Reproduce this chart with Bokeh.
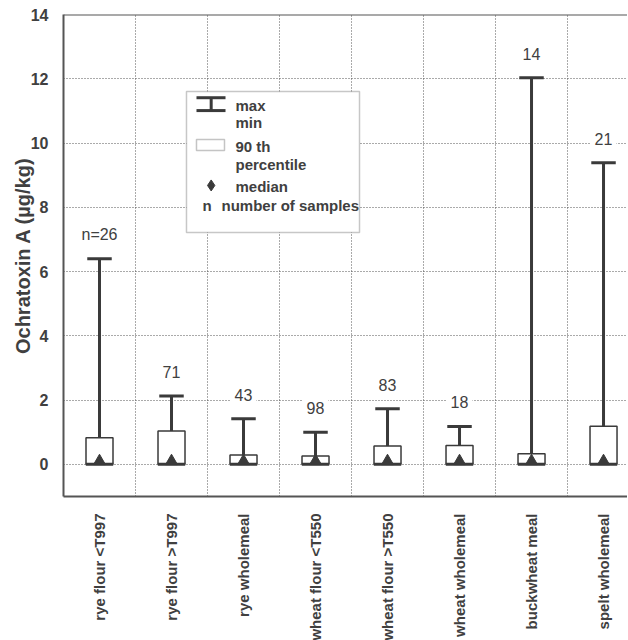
import numpy as np
from bokeh.plotting import figure
from bokeh.models import ColumnDataSource, FixedTicker, Span, BoxAnnotation, Label
from bokeh.transform import dodge
from bokeh.embed import file_html
from bokeh.resources import INLINE
from bokeh.core.properties import value

# ---- data ----
categories = ["rye flour <T997", "rye flour >T997", "rye wholemeal",
              "wheat flour <T550", "wheat flour >T550", "wheat wholemeal",
              "buckwheat meal", "spelt wholemeal"]
n_samples = [26, 71, 43, 98, 83, 18, 14, 21]
max_vals = [6.4, 2.13, 1.42, 1.0, 1.73, 1.18, 12.03, 9.39]
p90_vals = [0.83, 1.04, 0.29, 0.26, 0.57, 0.59, 0.33, 1.19]
min_vals = [0, 0, 0, 0, 0, 0, 0, 0]
median_vals = [0.1, 0.1, 0.1, 0.1, 0.1, 0.1, 0.1, 0.1]
y_ticks = [0, 2, 4, 6, 8, 10, 12, 14]

FONT = "Liberation Sans"
DARK = "#3a3a3a"
TXT = "#404040"

xs = [i + 0.5 for i in range(len(categories))]
n_labels = ["n=%d" % n_samples[0]] + [str(n) for n in n_samples[1:]]

src = ColumnDataSource(dict(x=xs, mx=max_vals, p90=p90_vals, mn=min_vals,
                            med=median_vals, lab=n_labels))

p = figure(frame_width=564, frame_height=482, x_range=(0, 7.833), y_range=(-1, 14),
           output_backend="svg", toolbar_location=None,
           min_border_left=63, min_border_top=14, min_border_right=0,
           min_border_bottom=130)
p.outline_line_color = None
p.background_fill_color = "white"
p.border_fill_color = "white"

# grids
p.xgrid.ticker = FixedTicker(ticks=[1, 2, 3, 4, 5, 6, 7])
p.ygrid.ticker = FixedTicker(ticks=y_ticks[:-1])
for g in (p.xgrid, p.ygrid):
    g.grid_line_color = "#555555"
    g.grid_line_dash = "1 2"
    g.grid_line_width = 1

# top border
p.add_layout(Span(location=14, dimension="width", line_color="#555555", line_width=2))

# axes
p.xaxis.ticker = FixedTicker(ticks=xs)
p.xaxis.major_label_overrides = {x: c for x, c in zip(xs, categories)}
p.xaxis.major_label_orientation = np.pi / 2
p.yaxis.ticker = FixedTicker(ticks=y_ticks)
for ax in (p.xaxis, p.yaxis):
    ax.axis_line_color = "#555555"
    ax.axis_line_width = 2
    ax.major_tick_line_color = None
    ax.minor_tick_line_color = None
    ax.major_label_text_font = FONT
    ax.major_label_text_font_style = "bold"
    ax.major_label_text_color = TXT
p.xaxis.major_label_text_font_size = "15px"
p.xaxis.major_label_standoff = 11
p.yaxis.major_label_text_font_size = "16px"
p.yaxis.major_label_standoff = 9
p.yaxis.axis_label = "Ochratoxin A (µg/kg)"
p.yaxis.axis_label_text_font = FONT
p.yaxis.axis_label_text_font_size = "20px"
p.yaxis.axis_label_text_font_style = "bold"
p.yaxis.axis_label_text_color = TXT
p.yaxis.axis_label_standoff = -6

# boxes (0 -> 90th percentile)
p.vbar(x="x", top="p90", bottom="mn", width=0.375, source=src,
       fill_color="white", line_color=DARK, line_width=1.5)
# whisker stem
p.segment(x0="x", y0="p90", x1="x", y1="mx", source=src, line_color=DARK, line_width=3)
# max cap
p.segment(x0=dodge("x", -0.17), y0="mx", x1=dodge("x", 0.17), y1="mx", source=src,
          line_color=DARK, line_width=3)
# min cap
p.segment(x0=dodge("x", -0.19), y0="mn", x1=dodge("x", 0.19), y1="mn", source=src,
          line_color=DARK, line_width=3)
# median
p.scatter(x="x", y="med", marker="triangle", size=12, source=src,
          fill_color=DARK, line_color=DARK)

# sample counts
p.text(x="x", y="mx", text="lab", source=src, text_align="center",
       text_baseline="middle", y_offset=-24, text_font=value(FONT),
       text_font_size="16px", text_color=TXT,
       background_fill_color="white", padding=4)

# ---- legend (drawn) ----
p.add_layout(BoxAnnotation(left=1.708, right=4.111, top=11.605, bottom=7.218,
                           fill_color="white", fill_alpha=1.0,
                           line_color="#444444", line_width=1.5))
p.add_layout(BoxAnnotation(left=1.847, right=2.236, top=10.11, bottom=9.77,
                           fill_color="white", fill_alpha=1.0,
                           line_color=DARK, line_width=1.5, level="overlay"))
p.segment(x0=[1.847, 1.847, 2.051], y0=[11.41, 11.01, 11.01],
          x1=[2.25, 2.25, 2.051], y1=[11.41, 11.01, 11.41],
          line_color=DARK, line_width=3, level="overlay")
p.scatter(x=[2.051], y=[8.68], marker="diamond", size=11,
          fill_color=DARK, line_color=DARK, level="overlay")
for txt, lx, ly in [("max", 2.389, 11.18), ("min", 2.389, 10.64),
                    ("90 th", 2.389, 9.90), ("percentile", 2.389, 9.33),
                    ("median", 2.389, 8.64), ("n", 1.93, 8.07),
                    ("number of samples", 2.194, 8.07)]:
    p.add_layout(Label(x=lx, y=ly, text=txt, text_font=FONT, text_font_size="15px",
                       text_font_style="bold", text_color=TXT,
                       text_baseline="middle", text_align="left", level="overlay"))

open("out.html", "w").write(file_html(p, INLINE))
